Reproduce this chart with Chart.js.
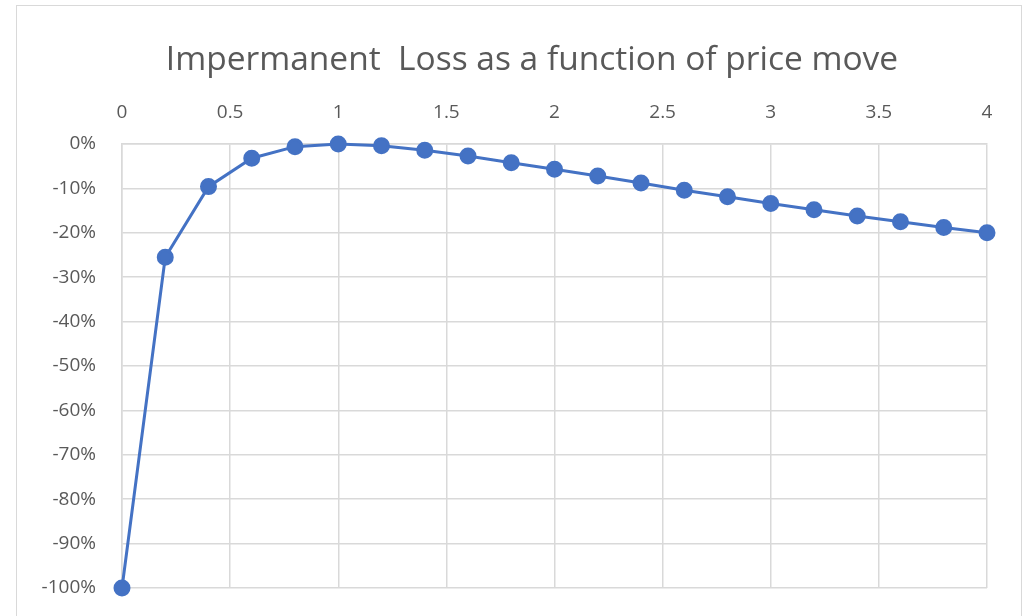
<!DOCTYPE html>
<html>
<head>
<meta charset="utf-8">
<script src="https://cdn.jsdelivr.net/npm/chart.js@4"></script>
<style>
  html, body { margin: 0; padding: 0; background: #fff; }
  #frame { position: absolute; left: 16px; top: 5px; width: 1004px; height: 640px; border: 1.5px solid #d9d9d9; }
  #wrap { position: absolute; left: 0; top: 0; width: 1027px; height: 616px; }
  #title {
    position: absolute; left: 132px; width: 800px; top: 37px;
    text-align: center; line-height: 40px;
    font-family: "Open Sans", "Noto Sans", sans-serif; font-size: 33.5px; color: #595959;
    white-space: pre;
  }
</style>
</head>
<body>
<div id="frame"></div>
<div id="wrap"><canvas id="myChart" width="1027" height="616"></canvas></div>
<div id="title">Impermanent  Loss as a function of price move</div>
<script>
// price ratio and impermanent loss (%)
var priceMove = [0, 0.2, 0.4, 0.6, 0.8, 1.0, 1.2, 1.4, 1.6, 1.8, 2.0, 2.2, 2.4, 2.6, 2.8, 3.0, 3.2, 3.4, 3.6, 3.8, 4.0];
var lossPct = [-100, -25.5, -9.6, -3.2, -0.6, 0, -0.4, -1.4, -2.7, -4.2, -5.7, -7.2, -8.8, -10.4, -11.9, -13.4, -14.8, -16.2, -17.5, -18.8, -20];
var xTicks = [0, 0.5, 1, 1.5, 2, 2.5, 3, 3.5, 4];
var yTicks = [0, -10, -20, -30, -40, -50, -60, -70, -80, -90, -100];

var points = priceMove.map(function(x, i) {
    return { x: x, y: lossPct[i] };
});

var grey = '#595959';
var gridCol = '#d9d9d9';
var fontFam = '"Open Sans", "Noto Sans", sans-serif';

var ctx = document.getElementById('myChart').getContext('2d');
var chart = new Chart(ctx, {
    type: 'line',
    data: {
        datasets: [{
            data: points,
            borderColor: '#4472C4',
            backgroundColor: '#4472C4',
            borderWidth: 3,
            pointRadius: 7,
            pointHoverRadius: 7,
            tension: 0,
            clip: false
        }]
    },
    options: {
        responsive: false,
        animation: false,
        // top padding leaves room for the html title
        layout: { autoPadding: false, padding: { left: 16, right: 40, bottom: 28, top: 79 } },
        plugins: {
            legend: { display: false },
            tooltip: { enabled: false },
            title: { display: false }
        },
        scales: {
            x: {
                type: 'linear',
                position: 'top',
                min: 0,
                max: 4,
                afterBuildTicks: function(axis) {
                    axis.ticks = xTicks.map(function(v) { return { value: v }; });
                },
                afterFit: function(axis) { axis.height = 65; },
                grid: { color: gridCol, lineWidth: 1.5, drawTicks: false },
                border: { display: true, color: gridCol, width: 1.5 },
                ticks: {
                    color: grey,
                    padding: 20,
                    maxRotation: 0,
                    font: { family: fontFam, size: 19 },
                    callback: function(v) { return String(v); }
                }
            },
            y: {
                min: -100,
                max: 0,
                afterBuildTicks: function(axis) {
                    axis.ticks = yTicks.map(function(v) { return { value: v }; });
                },
                afterFit: function(axis) {
                    axis.width = 106;
                    axis.paddingTop = 0;
                    axis.paddingBottom = 0;
                },
                grid: { color: gridCol, lineWidth: 1.5, drawTicks: false },
                border: { display: true, color: gridCol, width: 1.5 },
                ticks: {
                    color: grey,
                    padding: 26,
                    font: { family: fontFam, size: 19 },
                    callback: function(v) { return v + '%'; }
                }
            }
        }
    }
});
</script>
</body>
</html>
